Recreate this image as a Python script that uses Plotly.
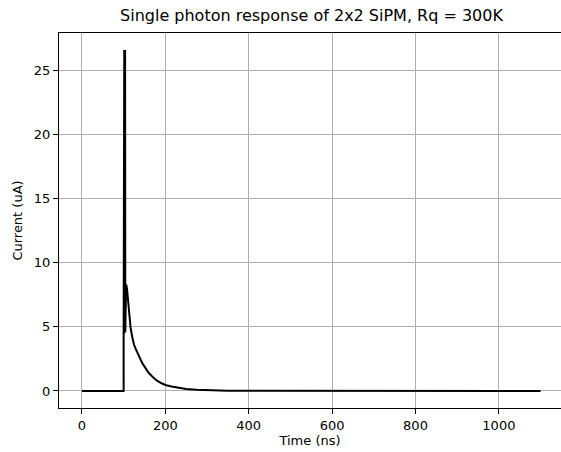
import plotly.graph_objects as go

# Time (ns) and current (uA)
time_ns = [0, 100, 100, 100.5, 101, 101.5, 102, 102.5, 103, 103.5, 104,
           105, 106, 108, 110, 113, 116.5, 120, 125, 130, 135, 140, 145,
           150, 155, 160, 170, 180, 191, 200, 215, 226, 250, 275, 300,
           350, 400, 500, 600, 800, 1000, 1100]
current_ua = [0, 0, 4.5, 26.6, 4.5, 26.6, 4.5, 26.6, 4.5, 26.6, 4.6,
              7.5, 8.3, 8.0, 7.2, 6.1, 5.0, 4.3, 3.6, 3.2, 2.9, 2.5, 2.15,
              1.9, 1.64, 1.42, 1.08, 0.8, 0.6, 0.47, 0.35, 0.28, 0.16, 0.09, 0.05,
              0.02, 0.01, 0, 0, 0, 0, 0]

x_ticks = [0, 200, 400, 600, 800, 1000]
y_ticks = [0, 5, 10, 15, 20, 25]

fig = go.Figure()
fig.add_trace(go.Scatter(x=time_ns, y=current_ua, mode="lines",
                         line=dict(color="black", width=2), showlegend=False))

axis_common = dict(
    showline=True, linecolor="black", linewidth=1,
    ticks="outside", ticklen=5, tickcolor="black", tickwidth=1,
    showgrid=True, gridcolor="#b0b0b0", gridwidth=1,
    zeroline=False,
    tickfont=dict(family="DejaVu Sans", size=13, color="black"),
)

fig.update_layout(
    width=561, height=452,
    margin=dict(l=59, r=0, t=33, b=44),
    paper_bgcolor="white", plot_bgcolor="white",
    font=dict(family="DejaVu Sans", color="black"),
    title=dict(text="Single photon response of 2x2 SiPM, Rq = 300K",
               x=(59 + 561 + 3) / 2 / 561, xanchor="center",
               y=1 - 15 / 452, yanchor="middle", yref="container",
               font=dict(family="DejaVu Sans", size=16, color="black")),
    xaxis=dict(range=[-55, 1149], tickvals=x_ticks, mirror=True,
               title=dict(text="Time (ns)", standoff=4,
                          font=dict(family="DejaVu Sans", size=13)),
               **axis_common),
    yaxis=dict(range=[-1.33, 27.93], tickvals=y_ticks, mirror=True,
               title=dict(text="Current (uA)", standoff=8,
                          font=dict(family="DejaVu Sans", size=13)),
               **axis_common),
)

fig.write_html("out.html")
